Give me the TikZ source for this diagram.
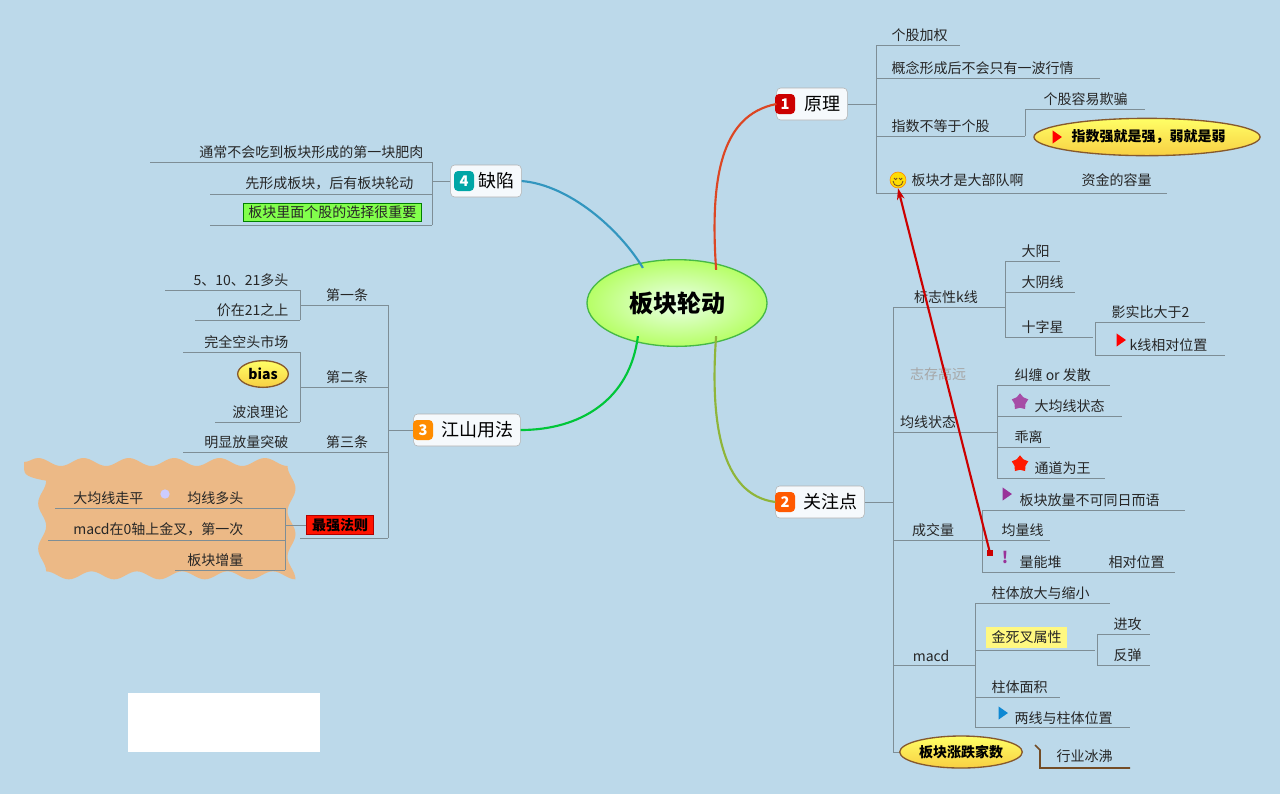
\documentclass[tikz,border=0pt]{standalone}
\usepackage{fontspec}
\setmainfont{Noto Sans CJK SC}
\usetikzlibrary{arrows.meta,shapes.geometric,decorations.pathmorphing}
\definecolor{bg}{HTML}{BCD9EA}
\definecolor{ln}{HTML}{7E8E96}
\definecolor{gold}{HTML}{F7D84A}
\newcommand{\ul}[3]{\draw[ln,line width=0.7pt] (#1,#3) -- (#2,#3);}
\newcommand{\vl}[3]{\draw[ln,line width=0.7pt] (#1,#2) -- (#1,#3);}
\begin{document}
\begin{tikzpicture}[x=0.75pt,y=-0.75pt,
  t/.style={font=\fontsize{10.5}{12}\selectfont,inner sep=1pt,text=black!85},
  main/.style={draw=gray!60,fill=white!85!bg,rounded corners=3pt,minimum height=24pt,font=\fontsize{13.5}{15}\selectfont,inner xsep=5pt},
  badge/.style={fill=#1,rounded corners=3pt,text=white,font=\bfseries\fontsize{11}{12}\selectfont,minimum size=15pt,inner sep=0pt},
  pill/.style={ellipse,draw=brown!70!black,line width=1pt,top color=yellow!60,bottom color=gold!90!orange,font=\bfseries\fontsize{10.5}{12}\selectfont,inner sep=1pt},
  flag/.style={fill=#1,isosceles triangle,isosceles triangle apex angle=70,minimum size=7pt,inner sep=0pt},
  starico/.style={fill=#1,star,star points=5,minimum size=13pt,inner sep=0pt}]
\fill[bg] (0,0) rectangle (1280,794);
\useasboundingbox (0,0) rectangle (1280,794);
\fill[white] (128,693) rectangle (320,752);

% centre
\node[ellipse,draw=green!45!gray,line width=1pt,inner color=green!8!white,outer color=green!30!lime!60!white,minimum width=135pt,minimum height=65pt,font=\bfseries\fontsize{18}{20}\selectfont] (root) at (677,303) {板块轮动};

% main topics
\node[main] (m1) at (812,104) {\hspace{16pt}原理};
\node[badge=red!80!black] at (785,104) {1};
\node[main] (m2) at (820,502) {\hspace{16pt}关注点};
\node[badge=orange!70!red] at (785,502) {2};
\node[main] (m3) at (467,430) {\hspace{16pt}江山用法};
\node[badge=orange!90!yellow] at (423,430) {3};
\node[main] (m4) at (486,181) {\hspace{16pt}缺陷};
\node[badge=teal!70!cyan] at (464,181) {4};

\draw[red!45!brown,line width=1.6pt] (root.north east) ++(-25,-2) .. controls (710,180) and (720,115) .. (m1.west);
\draw[yellow!60!green!80!black,line width=1.6pt] (root.south east) ++(-25,2) .. controls (710,420) and (720,495) .. (m2.west);
\draw[green!55!teal,line width=1.6pt] (root.south west) ++(25,2) .. controls (630,400) and (580,430) .. (m3.east);
\draw[cyan!50!teal,line width=1.6pt] (root.north west) ++(30,-4) .. controls (620,230) and (570,185) .. (m4.east);

% 1 原理
\draw[ln,line width=0.7pt] (m1.east) -- (876,104);
\vl{876}{45}{193}
\node[t,anchor=south west] (a1) at (890,43) {个股加权}; \ul{876}{960}{45}
\node[t,anchor=south west] (a2) at (890,76) {概念形成后不会只有一波行情}; \ul{876}{1100}{78}
\node[t,anchor=south west] (a3) at (890,134) {指数不等于个股}; \ul{876}{1025}{136}
\vl{1025}{109}{136}
\node[t,anchor=south west] (a31) at (1042,107) {个股容易欺骗}; \ul{1025}{1145}{109}
\node[pill,minimum width=165pt,minimum height=28pt] (a32) at (1147,137) {\phantom{\ }指数强就是强，弱就是弱};
\node[flag=red] at (1056,137) {};
\node[circle,fill=yellow!80!orange,draw=orange,minimum size=12pt,inner sep=0pt] (smile) at (898,180) {};
\draw[brown!60!black,line width=0.6pt] (894,178) arc (180:0:1.6) (899,178) arc (180:0:1.6) (893,181) arc (180:0:5);
\node[t,anchor=west] (a4) at (910,180) {板块才是大部队啊};
\node[t,anchor=west] (a41) at (1080,180) {资金的容量}; \ul{876}{1167}{193}

% 2 关注点
\draw[ln,line width=0.7pt] (m2.east) -- (893,502);
\vl{893}{307}{745}
\node[t,anchor=south] (b1) at (946,305) {标志性k线}; \ul{893}{1005}{307}
\vl{1005}{261}{337}
\node[t,anchor=south west] (b11) at (1020,259) {大阳}; \ul{1005}{1060}{261}
\node[t,anchor=south west] (b12) at (1020,290) {大阴线}; \ul{1005}{1075}{292}
\node[t,anchor=south west] (b13) at (1020,335) {十字星}; \ul{1005}{1093}{337}
\vl{1095}{322}{355}
\node[t,anchor=south west] (b131) at (1110,320) {影实比大于2}; \ul{1095}{1205}{322}
\node[flag=red] at (1120,340) {};
\node[t,anchor=south west] (b132) at (1128,353) {k线相对位置}; \ul{1095}{1225}{355}
\node[t,text=gray!70,anchor=south] (b2) at (938,382) {志存高远};
\node[t,anchor=south] (b3) at (928,430) {均线状态}; \ul{893}{997}{432}
\vl{997}{385}{478}
\node[t,anchor=south west] (b31) at (1013,383) {纠缠 or 发散}; \ul{997}{1110}{385}
\node[starico=violet!70] at (1020,402) {};
\node[t,anchor=south west] (b32) at (1033,414) {大均线状态}; \ul{997}{1122}{416}
\node[t,anchor=south west] (b33) at (1013,445) {乖离}; \ul{997}{1050}{447}
\node[starico=red!80!orange] at (1020,464) {};
\node[t,anchor=south west] (b34) at (1033,476) {通道为王}; \ul{997}{1105}{478}
\node[t,anchor=south] (b4) at (933,538) {成交量}; \ul{893}{982}{540}
\vl{982}{510}{572}
\node[flag=violet!80] at (1006,494) {};
\node[t,anchor=south west] (b41) at (1018,508) {板块放量不可同日而语}; \ul{982}{1185}{510}
\node[t,anchor=south west] (b42) at (1000,538) {均量线}; \ul{982}{1050}{540}
\node[text=violet!80,font=\bfseries\large] at (1005,557) {!};
\node[t,anchor=south west] (b43) at (1018,570) {量能堆};
\node[t,anchor=south west] (b431) at (1107,570) {相对位置}; \ul{982}{1175}{572}
\node[t,anchor=south] (b5) at (931,663) {macd}; \ul{893}{975}{665}
\vl{975}{603}{727}
\node[t,anchor=south west] (b51) at (990,601) {柱体放大与缩小}; \ul{975}{1110}{603}
\node[t,anchor=south west,fill=yellow!50,inner xsep=4pt,inner ysep=3pt] (b52) at (986,648) {金死叉属性}; \ul{975}{1095}{650}
\vl{1097}{634}{665}
\node[t,anchor=south west] (b521) at (1112,632) {进攻}; \ul{1097}{1150}{634}
\node[t,anchor=south west] (b522) at (1112,663) {反弹}; \ul{1097}{1150}{665}
\node[t,anchor=south west] (b53) at (990,695) {柱体面积}; \ul{975}{1060}{697}
\node[flag=cyan!70!blue] at (1002,713) {};
\node[t,anchor=south west] (b54) at (1013,726) {两线与柱体位置}; \ul{975}{1130}{727}
\draw[ln,line width=0.7pt] (893,745) |- (905,752);
\node[pill,minimum width=82pt,minimum height=24pt] (b6) at (961,752) {板块涨跌家数};
\node[t,anchor=south west] (b61) at (1055,764) {行业冰沸};
\draw[brown!60!black,line width=1.2pt] (1035,745) -- (1040,750) -- (1040,768) -- (1130,768);

% 3 江山用法
\draw[ln,line width=0.7pt] (m3.west) -- (388,430);
\vl{388}{305}{538}
\node[t,anchor=south] (c1) at (347,303) {第一条}; \ul{300}{388}{305}
\vl{300}{290}{320}
\node[t,anchor=south east] (c11) at (290,288) {5、10、21多头}; \ul{165}{300}{290}
\node[t,anchor=south east] (c12) at (290,318) {价在21之上}; \ul{195}{300}{320}
\node[t,anchor=south] (c2) at (347,385) {第二条}; \ul{300}{388}{387}
\vl{300}{352}{422}
\node[t,anchor=south east] (c21) at (290,350) {完全空头市场}; \ul{183}{300}{352}
\node[pill,minimum width=38pt,minimum height=20pt] (c22) at (263,374) {bias};
\node[t,anchor=south east] (c23) at (290,420) {波浪理论}; \ul{215}{300}{422}
\node[t,anchor=south] (c3) at (347,450) {第三条};
\node[t,anchor=south east] (c31) at (290,450) {明显放量突破}; \ul{183}{388}{452}
\fill[orange!45!brown!55!white,decorate,decoration={snake,amplitude=3pt,segment length=34pt}] (24,462) -- (270,462) -- (270,585) -- (24,585) -- cycle;
\node[draw=red!70!black,fill=red!85!orange,font=\bfseries\fontsize{10.5}{12}\selectfont,inner sep=2pt,minimum width=50pt] (c4) at (340,525) {最强法则}; \ul{300}{388}{538}
\vl{285}{508}{570}
\node[t,anchor=south east] (c41) at (145,506) {大均线走平};
\node[circle,fill=white!80!blue,minimum size=7pt,inner sep=0pt] at (165,494) {};
\node[t,anchor=south east] (c42) at (245,506) {均线多头}; \ul{55}{285}{508}
\node[t,anchor=south east] (c43) at (245,538) {macd在0轴上金叉，第一次}; \ul{48}{285}{540}
\node[t,anchor=south east] (c44) at (245,568) {板块增量}; \ul{175}{285}{570}
\draw[ln,line width=0.7pt] (c4.west) -- (285,525);

% 4 缺陷
\draw[ln,line width=0.7pt] (m4.west) -- (432,181);
\vl{432}{162}{225}
\node[t,anchor=south east] (d1) at (425,160) {通常不会吃到板块形成的第一块肥肉}; \ul{150}{432}{162}
\node[t,anchor=south east] (d2) at (415,192) {先形成板块，后有板块轮动}; \ul{210}{432}{194}
\node[t,anchor=south east,fill=green!60!lime!70,draw=green!50!black,inner xsep=4pt,inner ysep=2pt] (d3) at (422,222) {板块里面个股的选择很重要}; \ul{210}{432}{225}

% red arrow
\coordinate (tail) at (990,553);
\draw[red!80!black,line width=1.6pt,-{Stealth[length=3mm,width=2mm]}] (tail) -- (smile.south);
\fill[red!80!black] (tail) ++(-3,-3) rectangle ++(6,6);
\end{tikzpicture}
\end{document}
